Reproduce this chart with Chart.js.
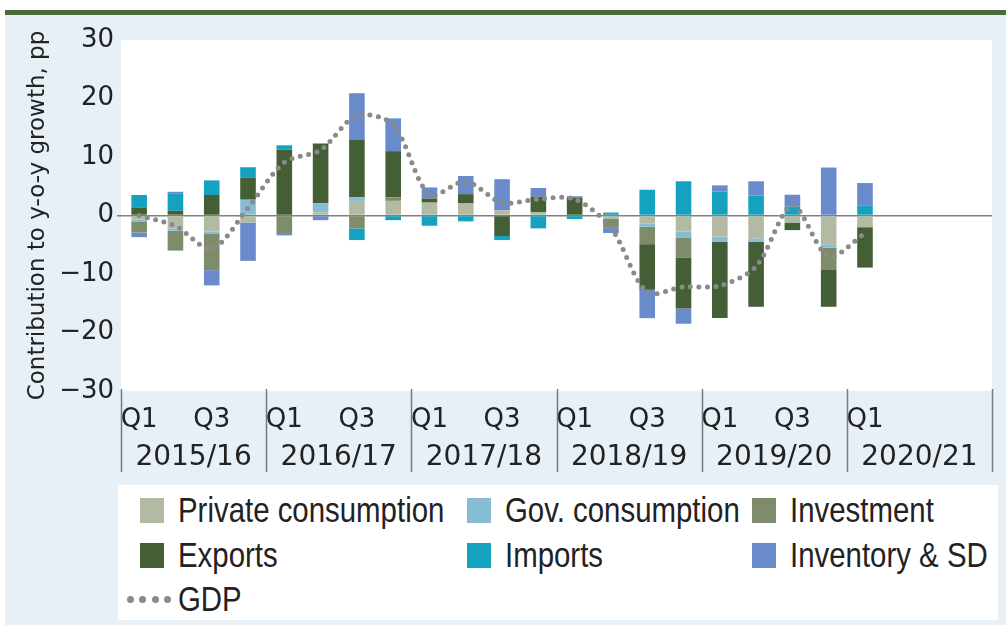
<!DOCTYPE html>
<html>
<head>
<meta charset="utf-8">
<script src="https://cdn.jsdelivr.net/npm/chart.js@4"></script>
<style>
  body { margin: 0; width: 1006px; height: 625px; background: #fff; position: relative; overflow: hidden; }
  .rule { position: absolute; left: 5px; top: 10px; width: 1001px; height: 5px; background: #4b6b3c; }
  .panel { position: absolute; left: 5px; top: 15px; width: 1001px; height: 610px; background: #e7f0f7; }
  .wrap { position: absolute; left: 0; top: 16px; width: 1006px; height: 460px; }
  #legend { position: absolute; left: 118px; top: 485px; width: 880px; height: 135px; background: #fff; }
  .item { position: absolute; display: flex; align-items: center; height: 40px; white-space: nowrap;
          font-family: "Liberation Sans", Arial, sans-serif; font-size: 35px; color: #222; }
  .item .txt { display: inline-block; transform: scaleX(0.84); transform-origin: left center; }
  .sw { width: 24px; height: 25px; margin-right: 14px; }
  .dots { display: flex; width: 44px; margin-right: 7px; justify-content: space-between; }
  .dots span { width: 7px; height: 7px; border-radius: 50%; background: #8a8a8a; }
</style>
</head>
<body>
<div class="rule"></div>
<div class="panel"></div>
<div class="wrap"><canvas id="chart" width="1006" height="460"></canvas></div>
<div id="legend"></div>
<script>
const quarters = [
  'Q1', 'Q2', 'Q3', 'Q4', 'Q1', 'Q2', 'Q3', 'Q4', 'Q1', 'Q2', 'Q3', 'Q4',
  'Q1', 'Q2', 'Q3', 'Q4', 'Q1', 'Q2', 'Q3', 'Q4', 'Q1', 'Q2', 'Q3', 'Q4'
];
const years = ['2015/16', '2016/17', '2017/18', '2018/19', '2019/20', '2020/21'];
const yTicks = [-30, -20, -10, 0, 10, 20, 30];

// contributions, pp (2015/16 Q1 .. 2020/21 Q1)
const privateCons = [-0.7, -2.2, -2.75, -1.2, 0, 0.5, 2.5, 2.5, 2.2, 2.05, 0.9, 0.6, 0, -0.5, -1.4, -2.75, -3.6, -3.9, -1.2, -4.9, -2.0];
const govCons = [-0.3, -0.4, -0.3, 2.7, 0, 1.6, 0.6, 0, 0, 0, 0, 0, 0, 0, -0.5, -1.0, -0.9, -0.6, 0, -0.6, 0];
const investment = [-1.9, -3.4, -6.3, 0, -3.0, 0, -2.2, 0.6, 0, 0, 0, 0, 0, -1.6, -3.0, -3.5, 0, 0, 0, -3.7, 0];
const exportsC = [1.3, 0.8, 3.5, 3.8, 11.3, 10.2, 9.9, 7.9, 0.7, 1.6, -3.5, 2.6, 3.0, 0, -7.8, -8.65, -13.0, -11.1, -1.3, -6.4, -6.9];
const importsC = [2.2, 2.9, 2.5, 1.75, 0.7, 0, -2.0, -0.8, -1.75, -1.0, -0.7, -2.2, -0.6, 0.5, 4.4, 5.85, 4.1, 3.4, 1.5, 0, 1.75];
const inventory = [-0.8, 0.35, -2.6, -6.55, -0.4, -0.8, 7.9, 5.6, 1.9, 3.1, 5.3, 1.5, 0.3, -0.9, -4.85, -2.6, 1.05, 2.45, 2.05, 8.2, 3.8];
const gdp = [0, -1.8, -5.7, 1.3, 9.1, 11.2, 17.1, 15.5, 3.6, 5.8, 2.2, 2.8, 2.8, -2.1, -13.1, -12.2, -12.0, -8.7, 1.7, -7.0, -3.0];

const font = 'DejaVu Sans';
const textColor = '#222';

function bar(label, data, color) {
  return {
    type: 'bar', label: label, data: data, backgroundColor: color,
    borderWidth: 0, categoryPercentage: 1, barPercentage: 0.43, order: 1
  };
}

// white plot area
const plotBg = {
  id: 'plotBg',
  beforeDraw(chart) {
    const a = chart.chartArea, c = chart.ctx;
    c.save();
    c.fillStyle = '#fff';
    c.fillRect(a.left, a.top, a.right - a.left, a.bottom - a.top);
    c.restore();
  }
};

// year separators under the axis
const yearLines = {
  id: 'yearLines',
  afterDraw(chart) {
    const xs = chart.scales.x, c = chart.ctx;
    const step = (xs.right - xs.left) / years.length;
    c.save();
    c.strokeStyle = '#7a7a7a';
    c.lineWidth = 1.5;
    for (let i = 0; i <= years.length; i++) {
      const x = Math.round(xs.left + i * step) + 0.5;
      c.beginPath();
      c.moveTo(x, chart.chartArea.bottom - 2);
      c.lineTo(x, chart.scales.x2.bottom - 4);
      c.stroke();
    }
    c.restore();
  }
};

const chart = new Chart(document.getElementById('chart'), {
  data: {
    labels: quarters,
    datasets: [
      bar('Private consumption', privateCons, '#b2baa3'),
      bar('Gov. consumption', govCons, '#86bdd5'),
      bar('Investment', investment, '#7e8c6b'),
      bar('Exports', exportsC, '#445f36'),
      bar('Imports', importsC, '#15a2c0'),
      bar('Inventory & SD', inventory, '#6a8bcb'),
      {
        type: 'line', label: 'GDP', data: gdp, stack: 'gdp', order: 0,
        borderColor: '#8a8a8a', borderWidth: 5, borderDash: [0, 8.5], borderCapStyle: 'round',
        pointRadius: 0, tension: 0.3, fill: false
      }
    ]
  },
  options: {
    responsive: false,
    animation: false,
    devicePixelRatio: 1,
    layout: { padding: { top: 24, right: 14, left: 0, bottom: 0 } },
    plugins: { legend: { display: false }, tooltip: { enabled: false } },
    scales: {
      x: {
        type: 'category', stacked: true, offset: true,
        grid: { display: false }, border: { display: false },
        ticks: {
          autoSkip: false, maxRotation: 0, padding: 6, color: textColor,
          font: { family: font, size: 26 },
          callback: (v, i) => (i % 2 === 0 && i < gdp.length ? quarters[i] : '')
        },
        afterFit: s => { s.height = 40; }
      },
      x2: {
        type: 'category', labels: years, position: 'bottom', offset: true,
        grid: { display: false }, border: { display: false },
        ticks: { autoSkip: false, maxRotation: 0, padding: 2, color: textColor, font: { family: font, size: 28 } },
        afterFit: s => { s.height = 45; }
      },
      y: {
        stacked: true, min: yTicks[0], max: yTicks[yTicks.length - 1],
        afterBuildTicks: s => { s.ticks = yTicks.map(v => ({ value: v })); },
        ticks: {
          padding: 3, color: textColor, font: { family: font, size: 26 },
          callback: v => (v < 0 ? '\u2212' + Math.abs(v) : String(v))
        },
        grid: {
          color: c => (c.tick && c.tick.value === 0 ? '#808080' : 'transparent'),
          tickColor: c => (c.tick && c.tick.value === 0 ? '#808080' : 'transparent'),
          lineWidth: 1.5, tickLength: 4
        },
        border: { display: false },
        title: {
          display: true, text: 'Contribution to y-o-y growth, pp', color: textColor,
          font: { family: font, size: 23 }, padding: { top: 24, bottom: 0 }
        },
        afterFit: s => { s.width = 121; }
      }
    }
  },
  plugins: [plotBg, yearLines]
});

// legend: three columns, built from the datasets
const legend = document.getElementById('legend');
const colX = [22, 349, 634];
const rowY = [5, 50, 94];
chart.data.datasets.forEach((ds, i) => {
  const item = document.createElement('div');
  item.className = 'item';
  item.style.left = (ds.type === 'line' ? 9 : colX[i % 3]) + 'px';
  item.style.top = rowY[Math.floor(i / 3)] + 'px';
  if (ds.type === 'line') {
    item.innerHTML = '<div class="dots"><span></span><span></span><span></span><span></span></div>';
  } else {
    item.innerHTML = '<div class="sw" style="background:' + ds.backgroundColor + '"></div>';
  }
  const txt = document.createElement('span');
  txt.className = 'txt';
  txt.textContent = ds.label;
  item.appendChild(txt);
  legend.appendChild(item);
});
</script>
</body>
</html>
